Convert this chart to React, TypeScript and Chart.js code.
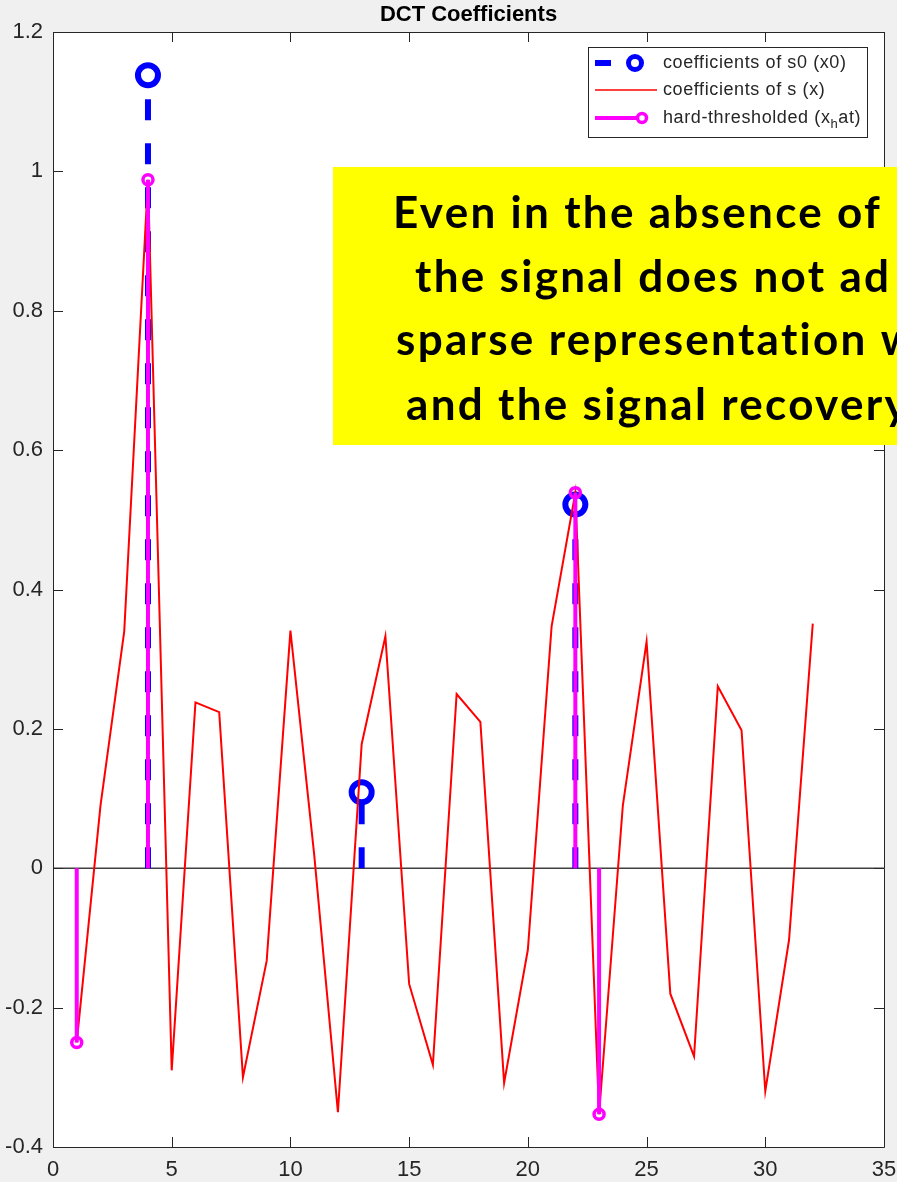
import React, { useEffect, useRef } from 'react';
import { Chart, registerables } from 'chart.js';

Chart.register(...registerables);

// ---------------- data ----------------
const coeffIndex = [
  1, 2, 3, 4, 5, 6, 7, 8, 9, 10, 11, 12, 13, 14, 15, 16,
  17, 18, 19, 20, 21, 22, 23, 24, 25, 26, 27, 28, 29, 30, 31, 32,
];
const coeffS = [
  -0.25, 0.09, 0.34, 0.988, -0.29, 0.238, 0.224, -0.3, -0.133, 0.341, 0.02, -0.35, 0.178, 0.333, -0.166, -0.282,
  0.25, 0.21, -0.308, -0.117, 0.347, 0.539, -0.353, 0.09, 0.325, -0.18, -0.27, 0.261, 0.198, -0.32, -0.103, 0.351,
];
const s0Index = [4, 13, 22];
const s0Values = [1.138, 0.109, 0.522];
const hatIndex = [1, 4, 22, 23];
const hatValues = [-0.25, 0.988, 0.539, -0.353];
const xTicks = [0, 5, 10, 15, 20, 25, 30, 35];
const yTicks = [-0.4, -0.2, 0, 0.2, 0.4, 0.6, 0.8, 1, 1.2];
const yTickLabels = ['-0.4', '-0.2', '0', '0.2', '0.4', '0.6', '0.8', '1', '1.2'];
const baseRange = [0, 35];

const titleText = 'DCT Coefficients';
const legendLabels = ['coefficients of s0 (x0)', 'coefficients of s (x)', 'hard-thresholded (x'];
const noteLines = [
  'Even in the absence of',
  'the signal does not ad',
  'sparse representation w',
  'and the signal recovery',
];

const AXIS_FONT = "'Liberation Sans', Arial, Helvetica, sans-serif";

function stemData(idx: number[], vals: number[]) {
  const out: { x: number; y: number | null }[] = [];
  idx.forEach((x, i) => {
    out.push({ x, y: 0 });
    out.push({ x, y: vals[i] });
    out.push({ x, y: null });
  });
  return out;
}

const decorPlugin = {
  id: 'matlabDecor',
  beforeDraw(chart: any) {
    const { ctx, chartArea: a } = chart;
    ctx.save();
    ctx.fillStyle = '#f0f0f0';
    ctx.fillRect(0, 0, chart.width, chart.height);
    ctx.fillStyle = '#ffffff';
    ctx.fillRect(a.left, a.top, a.right - a.left, a.bottom - a.top);
    ctx.restore();
  },
  afterDraw(chart: any) {
    const { ctx, chartArea: a } = chart;
    const xs = chart.scales.x;
    const ys = chart.scales.y;
    ctx.save();
    // frame + inner ticks
    ctx.strokeStyle = '#262626';
    ctx.lineWidth = 1;
    ctx.beginPath();
    ctx.rect(Math.round(a.left) + 0.5, Math.round(a.top) + 0.5, Math.round(a.right - a.left), Math.round(a.bottom - a.top));
    const tl = 10;
    xTicks.forEach((v) => {
      const px = Math.round(xs.getPixelForValue(v)) + 0.5;
      ctx.moveTo(px, a.bottom);
      ctx.lineTo(px, a.bottom - tl);
      ctx.moveTo(px, a.top);
      ctx.lineTo(px, a.top + tl);
    });
    yTicks.forEach((v) => {
      const py = Math.round(ys.getPixelForValue(v)) + 0.5;
      ctx.moveTo(a.left, py);
      ctx.lineTo(a.left + tl, py);
      ctx.moveTo(a.right, py);
      ctx.lineTo(a.right - tl, py);
    });
    ctx.stroke();

    // title
    ctx.fillStyle = '#000000';
    ctx.font = `bold 22px ${AXIS_FONT}`;
    ctx.textAlign = 'center';
    ctx.textBaseline = 'alphabetic';
    ctx.fillText(titleText, (a.left + a.right) / 2, 21);

    // legend
    const lx = 588, ly = 47, lw = 279, lh = 90;
    ctx.fillStyle = '#ffffff';
    ctx.fillRect(lx, ly, lw, lh);
    ctx.strokeStyle = '#262626';
    ctx.lineWidth = 1;
    ctx.strokeRect(lx + 0.5, ly + 0.5, lw, lh);
    const rows = [63, 90, 118];
    // row 1: blue dashed + circle
    ctx.strokeStyle = '#0000ff';
    ctx.lineWidth = 6;
    ctx.beginPath();
    ctx.moveTo(595, rows[0]);
    ctx.lineTo(611, rows[0]);
    ctx.stroke();
    ctx.lineWidth = 5;
    ctx.beginPath();
    ctx.arc(635, rows[0], 6.5, 0, Math.PI * 2);
    ctx.stroke();
    // row 2: red line
    ctx.strokeStyle = '#ff0000';
    ctx.lineWidth = 1.6;
    ctx.beginPath();
    ctx.moveTo(595, rows[1]);
    ctx.lineTo(657, rows[1]);
    ctx.stroke();
    // row 3: magenta line + circle
    ctx.strokeStyle = '#ff00ff';
    ctx.lineWidth = 4;
    ctx.beginPath();
    ctx.moveTo(595, rows[2]);
    ctx.lineTo(638, rows[2]);
    ctx.stroke();
    ctx.lineWidth = 3.5;
    ctx.beginPath();
    ctx.arc(642, rows[2], 4.5, 0, Math.PI * 2);
    ctx.stroke();
    // legend texts
    ctx.fillStyle = '#262626';
    ctx.textAlign = 'left';
    ctx.textBaseline = 'middle';
    (ctx as any).letterSpacing = '0.6px';
    ctx.font = `18px ${AXIS_FONT}`;
    const tx = 663;
    ctx.fillText(legendLabels[0], tx, rows[0]);
    ctx.fillText(legendLabels[1], tx, rows[1]);
    ctx.fillText(legendLabels[2], tx, rows[2]);
    const w = ctx.measureText(legendLabels[2]).width;
    ctx.font = `13px ${AXIS_FONT}`;
    ctx.fillText('h', tx + w, rows[2] + 6);
    const wh = ctx.measureText('h').width;
    ctx.font = `18px ${AXIS_FONT}`;
    ctx.fillText('at)', tx + w + wh, rows[2]);
    (ctx as any).letterSpacing = '0px';

    // yellow note box
    ctx.fillStyle = '#ffff00';
    ctx.fillRect(333, 167, chart.width - 333, 278);
    ctx.fillStyle = '#000000';
    ctx.font = `bold 44px Lato, 'Open Sans', sans-serif`;
    (ctx as any).letterSpacing = '2.3px';
    ctx.textAlign = 'left';
    ctx.textBaseline = 'alphabetic';
    const starts = [393, 415, 396, 406];
    const bases = [228, 292, 355, 420];
    noteLines.forEach((t, i) => ctx.fillText(t, starts[i], bases[i]));
    (ctx as any).letterSpacing = '0px';
    ctx.restore();
  },
};

export default function App() {
  const ref = useRef<HTMLCanvasElement | null>(null);

  useEffect(() => {
    document.body.style.margin = '0';
    document.body.style.background = '#f0f0f0';
    document.body.style.overflow = 'hidden';
    const canvas = ref.current!;
    const chart = new Chart(canvas, {
      type: 'line',
      data: {
        datasets: [
          {
            label: 'hard-thresholded',
            data: stemData(hatIndex, hatValues),
            borderColor: '#ff00ff',
            borderWidth: 4,
            spanGaps: false,
            pointRadius: (c: any) => (c.dataIndex % 3 === 1 ? 5 : 0),
            pointBorderWidth: 3.5,
            pointBorderColor: '#ff00ff',
            pointBackgroundColor: 'rgba(0,0,0,0)',
            pointStyle: 'circle',
          } as any,
          {
            label: 'coefficients of s',
            data: coeffIndex.map((x, i) => ({ x, y: coeffS[i] })),
            borderColor: '#ff0000',
            borderWidth: 2,
            pointRadius: 0,
            tension: 0,
          },
          {
            label: 'coefficients of s0',
            data: stemData(s0Index, s0Values),
            borderColor: '#0000ff',
            borderWidth: 6,
            borderDash: [21, 23],
            spanGaps: false,
            pointRadius: (c: any) => (c.dataIndex % 3 === 1 ? 10 : 0),
            pointBorderWidth: 6,
            pointBorderColor: '#0000ff',
            pointBackgroundColor: '#ffffff',
            pointStyle: 'circle',
          } as any,
          {
            label: 'baseline',
            data: baseRange.map((x) => ({ x, y: 0 })),
            borderColor: '#404040',
            borderWidth: 1.5,
            pointRadius: 0,
          },
        ],
      },
      options: {
        responsive: false,
        animation: false,
        devicePixelRatio: 1,
        layout: { padding: { top: 32, right: 13, left: 0, bottom: 0 } },
        plugins: {
          legend: { display: false },
          title: { display: false },
          tooltip: { enabled: false },
        },
        events: [],
        scales: {
          x: {
            type: 'linear',
            min: 0,
            max: 35,
            grid: { display: false, drawTicks: false },
            border: { display: false },
            afterBuildTicks: (s: any) => {
              s.ticks = xTicks.map((v) => ({ value: v }));
            },
            afterFit: (s: any) => {
              s.height = 35;
              s.paddingLeft = 0;
              s.paddingRight = 0;
            },
            ticks: {
              padding: 10,
              color: '#262626',
              font: { family: AXIS_FONT, size: 22 },
              maxRotation: 0,
              autoSkip: false,
              callback: (v: any) => String(v),
            },
          },
          y: {
            type: 'linear',
            min: -0.4,
            max: 1.2,
            grid: { display: false, drawTicks: false },
            border: { display: false },
            afterBuildTicks: (s: any) => {
              s.ticks = yTicks.map((v) => ({ value: v }));
            },
            afterFit: (s: any) => {
              s.width = 53;
              s.paddingTop = 0;
              s.paddingBottom = 0;
            },
            ticks: {
              padding: 10,
              color: '#262626',
              font: { family: AXIS_FONT, size: 22 },
              autoSkip: false,
              callback: (_v: any, i: number) => yTickLabels[i],
            },
          },
        },
      },
      plugins: [decorPlugin],
    } as any);
    return () => chart.destroy();
  }, []);

  return (
    <div style={{ width: 897, height: 1182, background: '#f0f0f0' }}>
      <canvas ref={ref} width={897} height={1182} style={{ display: 'block', width: 897, height: 1182 }} />
    </div>
  );
}
